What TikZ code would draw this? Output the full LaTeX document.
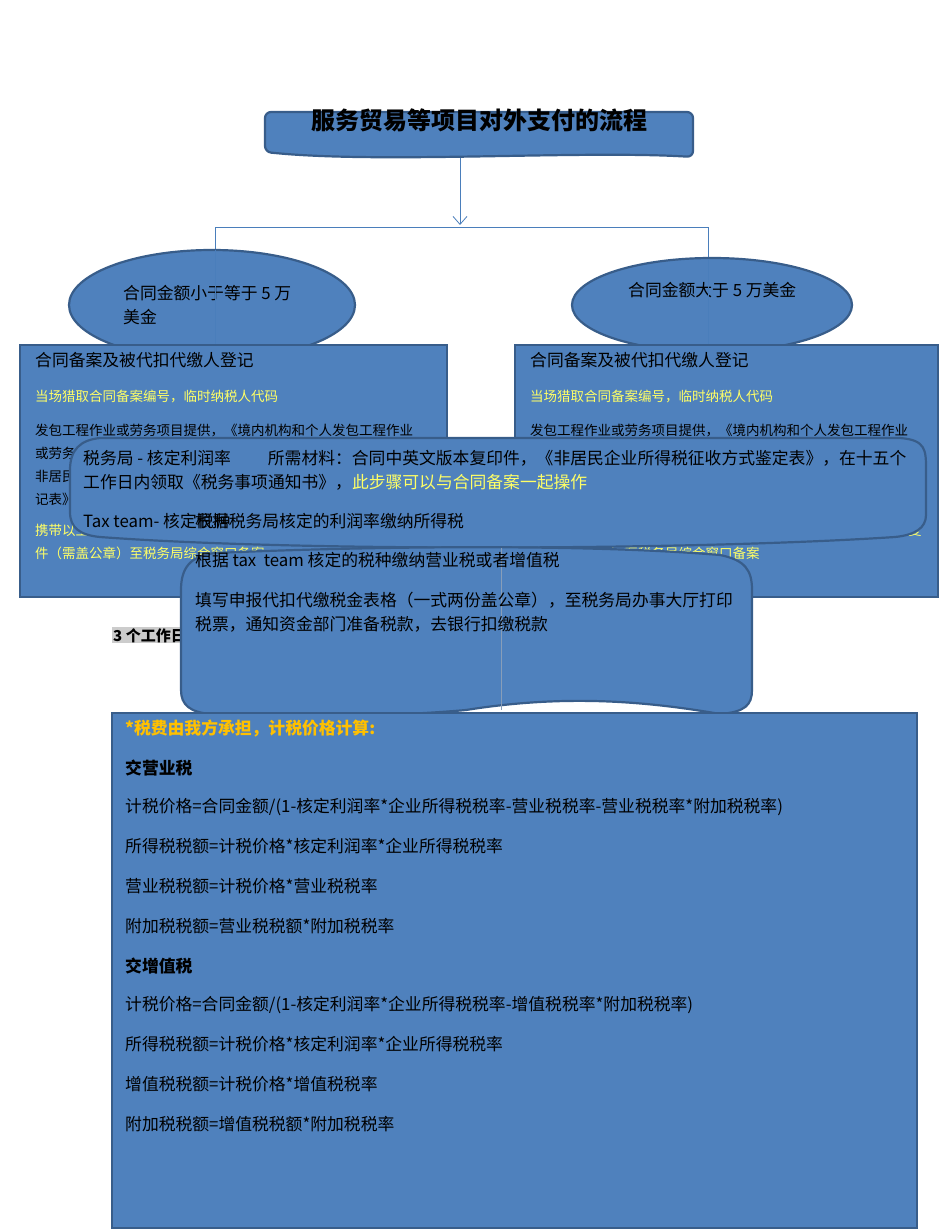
\documentclass[tikz,border=0pt]{standalone}
\usepackage{fontspec}
\setmainfont{Noto Sans CJK SC}
\usetikzlibrary{arrows.meta}
\definecolor{fillb}{HTML}{4F81BD}
\definecolor{edgeb}{HTML}{385D8A}
\definecolor{lin}{HTML}{4A7EBB}
\definecolor{ylw}{HTML}{FFFF66}
\definecolor{org}{HTML}{FFC000}
\tikzset{shp/.style={fill=fillb,draw=edgeb,line width=2.2pt},
 txt/.style={anchor=north west,inner sep=0,font=\fontsize{16.8}{24}\selectfont,align=left},
 stxt/.style={anchor=north west,inner sep=0,font=\fontsize{13.5}{23}\selectfont,align=left},
 conn/.style={draw=lin,line width=0.8pt}}
\begin{document}
\begin{tikzpicture}[x=1pt,y=-1pt]
\useasboundingbox (0,0) rectangle (950,1230);
\fill[white] (0,0) rectangle (950,1230);
% connectors
\coordinate (t0) at (460,157);
\coordinate (t1) at (460,225);
\coordinate (hl) at (215,227);
\coordinate (hr) at (708,227);
\coordinate (vl) at (215,345);
\coordinate (vr) at (708,345);
\draw[conn,-{Straight Barb[length=8pt,width=14pt]}] (t0) -- (t1);
\draw[conn] (vl) -- (hl) -- (hr) -- (vr);
% title
\draw[shp,rounded corners=6pt] (265,112) -- (693,112) -- (693,157) .. controls (580,150) and (380,164) .. (265,152) -- cycle;
\node[font=\fontsize{24}{28}\selectfont\bfseries] (title) at (479,120) {服务贸易等项目对外支付的流程};
% ellipses
\draw[shp] (212,305) ellipse [x radius=143,y radius=55];
\node[txt] (el) at (123,285) {合同金额小于等于 5 万\\美金};
\draw[shp] (712,305) ellipse [x radius=140,y radius=47];
\node[txt] (er) at (628,282) {合同金额大于 5 万美金};
\draw[conn] (215,250) -- (215,345);
\draw[conn] (708,260) -- (708,345);
% rects
\draw[shp] (20,345) rectangle (447,597);
\node[txt] (l1) at (35,352) {合同备案及被代扣代缴人登记};
\node[stxt,text=ylw] (l2) at (35,390) {当场猎取合同备案编号，临时纳税人代码};
\node[stxt] (l3) at (35,424) {发包工程作业或劳务项目提供，《境内机构和个人发包工程作业\\或劳务项目报告表》};
\node[stxt] (l4) at (35,470) {非居民企业所得税项目登记表，《扣缴企业所得税合同备案登\\记表》};
\node[stxt,text=ylw] (l5) at (35,524) {携带以上表格及合同原件复印件，营业执照复印件，授权委托\\件（需盖公章）至税务局综合窗口备案};
\draw[shp] (515,345) rectangle (938,597);
\node[txt] (r1) at (530,352) {合同备案及被代扣代缴人登记};
\node[stxt,text=ylw] (r2) at (530,390) {当场猎取合同备案编号，临时纳税人代码};
\node[stxt] (r3) at (530,424) {发包工程作业或劳务项目提供，《境内机构和个人发包工程作业\\或劳务项目报告表》};
\node[stxt] (r4) at (530,470) {非居民企业所得税项目登记表，《扣缴企业所得税合同备案登\\记表》};
\node[stxt,text=ylw] (r5) at (530,524) {携带以上表格及合同原件复印件，营业执照复印件，授权委托书复\\件（需盖公章）至税务局综合窗口备案};
% 3 working days label
\node[anchor=north west,inner sep=1pt,fill=black!20,font=\fontsize{15}{18}\selectfont\bfseries] (d3) at (112,627) {3 个工作日};
% middle rounded shape
\draw[shp] (100,438) -- (900,438) .. controls (926,440) and (926,450) .. (926,470) -- (926,515) .. controls (926,528) and (915,535) .. (895,537)
  .. controls (700,550) and (300,552) .. (100,537) .. controls (80,535) and (70,528) .. (70,512) -- (70,470) .. controls (70,450) and (80,440) .. (100,438) -- cycle;
\node[txt] (m1) at (83,450) {税务局 - 核定利润率\hspace{2.2em}所需材料：合同中英文版本复印件，《非居民企业所得税征收方式鉴定表》，在十五个\\工作日内领取《税务事项通知书》，\textcolor{ylw}{此步骤可以与合同备案一起操作}};
\node[txt] (m2) at (83,513) {Tax team- 核定税种};
\node[txt] (m3) at (195,513) {根据税务局核定的利润率缴纳所得税};
% wave shape
\draw[shp] (215,553) .. controls (400,545) and (600,545) .. (720,555) .. controls (745,560) and (752,570) .. (752,590) -- (752,690)
  .. controls (752,705) and (745,712) .. (720,714) .. controls (640,700) and (560,695) .. (466,710) .. controls (400,716) and (300,718) .. (210,714)
  .. controls (190,712) and (181,705) .. (181,690) -- (181,590) .. controls (181,568) and (190,556) .. (215,553) -- cycle;
\draw[conn,draw=edgeb!60] (501,548) -- (501,710);
\node[txt] (w1) at (195,552) {根据 tax\ \ team 核定的税种缴纳营业税或者增值税};
\node[txt] (w2) at (195,592) {填写申报代扣代缴税金表格（一式两份盖公章），至税务局办事大厅打印\\税票，通知资金部门准备税款，去银行扣缴税款};
% bottom rect
\draw[shp] (112,713) rectangle (917,1228);
\node[txt,text=org,font=\fontsize{16.8}{24}\selectfont\bfseries] (b0) at (125,720) {*税费由我方承担，计税价格计算:};
\node[txt,font=\fontsize{16.8}{24}\selectfont\bfseries] (b1) at (125,760) {交营业税};
\node[txt] (b2) at (125,798) {计税价格=合同金额/(1-核定利润率*企业所得税税率-营业税税率-营业税税率*附加税税率)};
\node[txt] (b3) at (125,838) {所得税税额=计税价格*核定利润率*企业所得税税率};
\node[txt] (b4) at (125,878) {营业税税额=计税价格*营业税税率};
\node[txt] (b5) at (125,918) {附加税税额=营业税税额*附加税税率};
\node[txt,font=\fontsize{16.8}{24}\selectfont\bfseries] (b6) at (125,958) {交增值税};
\node[txt] (b7) at (125,996) {计税价格=合同金额/(1-核定利润率*企业所得税税率-增值税税率*附加税税率)};
\node[txt] (b8) at (125,1036) {所得税税额=计税价格*核定利润率*企业所得税税率};
\node[txt] (b9) at (125,1076) {增值税税额=计税价格*增值税税率};
\node[txt] (b10) at (125,1116) {附加税税额=增值税税额*附加税税率};
\end{tikzpicture}
\end{document}
